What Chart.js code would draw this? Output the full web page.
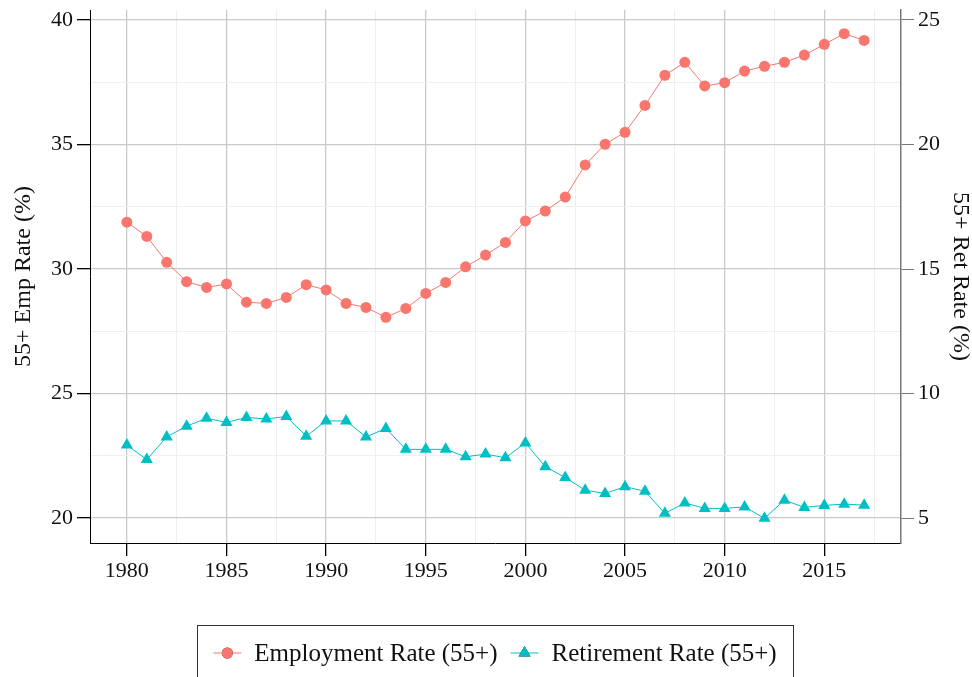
<!DOCTYPE html>
<html>
<head>
<meta charset="utf-8">
<title>55+ Employment and Retirement Rate</title>
<script src="https://cdn.jsdelivr.net/npm/chart.js"></script>
<style>
  html, body { margin: 0; padding: 0; background: #fff; }
  #chart { display: block; }
</style>
</head>
<body>
<canvas id="chart" width="972" height="677"></canvas>
<script>
// Data
const years = [1980, 1981, 1982, 1983, 1984, 1985, 1986, 1987, 1988, 1989,
               1990, 1991, 1992, 1993, 1994, 1995, 1996, 1997, 1998, 1999,
               2000, 2001, 2002, 2003, 2004, 2005, 2006, 2007, 2008, 2009,
               2010, 2011, 2012, 2013, 2014, 2015, 2016, 2017];

// 55+ employment rate (%), left axis
const empRate = [31.88, 31.31, 30.27, 29.49, 29.26, 29.40, 28.67, 28.62, 28.86, 29.37,
                 29.16, 28.62, 28.46, 28.06, 28.42, 29.02, 29.46, 30.09, 30.56, 31.07,
                 31.93, 32.33, 32.89, 34.18, 35.01, 35.49, 36.57, 37.78, 38.30, 37.35,
                 37.48, 37.95, 38.14, 38.30, 38.59, 39.02, 39.45, 39.18];

// 55+ retirement rate (%), right axis
const retRate = [7.93, 7.35, 8.26, 8.69, 9.01, 8.84, 9.04, 8.98, 9.08, 8.29,
                 8.90, 8.90, 8.26, 8.60, 7.76, 7.76, 7.76, 7.46, 7.57, 7.42,
                 8.02, 7.06, 6.63, 6.12, 5.99, 6.26, 6.08, 5.19, 5.61, 5.39,
                 5.39, 5.45, 4.99, 5.72, 5.43, 5.51, 5.56, 5.52];

const seriesNames = ['Employment Rate (55+)', 'Retirement Rate (55+)'];
const axisTitles = ['55+ Emp Rate (%)', '55+ Ret Rate (%)'];

const FONT = '"Liberation Serif", "Times New Roman", serif';
const TEXT = '#111111';
const RED = '#F8766D';
const CYAN = '#00BFC4';

const isMajor = (v, step) => Math.abs(v / step - Math.round(v / step)) < 1e-6;

// fix the plot box so it sits where the reference puts it
function fixSize(size) {
    return scale => {
        if (scale.isHorizontal()) scale.height = size; else scale.width = size;
        scale.paddingTop = 0;
        scale.paddingBottom = 0;
        scale.paddingLeft = 0;
        scale.paddingRight = 0;
    };
}

// Legend drawn by hand: boxed, with line + marker samples
const boxLegend = {
    id: 'boxLegend',
    afterDraw(chart) {
        const ctx = chart.ctx;
        const boxLeft = 197, boxRight = 793, boxTop = 625;
        const midY = 653;
        ctx.save();
        ctx.strokeStyle = '#333';
        ctx.lineWidth = 1;
        ctx.strokeRect(boxLeft + 0.5, boxTop + 0.5, boxRight - boxLeft, 80);

        ctx.font = '25px ' + FONT;
        ctx.textBaseline = 'middle';
        ctx.fillStyle = TEXT;
        const sampleW = 28, gapText = 13, gapItem = 13;
        const items = chart.data.datasets.map(ds => ({
            ds, w: sampleW + gapText + ctx.measureText(ds.label).width
        }));
        const total = items.reduce((a, it) => a + it.w, 0) + gapItem * (items.length - 1);
        let x = (boxLeft + boxRight) / 2 - total / 2;
        items.forEach(it => {
            const ds = it.ds;
            ctx.strokeStyle = ds.borderColor;
            ctx.lineWidth = ds.borderWidth;
            ctx.beginPath();
            ctx.moveTo(x, midY);
            ctx.lineTo(x + sampleW, midY);
            ctx.stroke();
            Chart.helpers.drawPoint(ctx, {
                pointStyle: ds.pointStyle,
                radius: ds.pointRadius,
                rotation: 0,
                borderWidth: 0
            }, x + sampleW / 2, midY);
            ctx.fillStyle = ds.pointBackgroundColor;
            ctx.fill();
            ctx.fillStyle = TEXT;
            ctx.fillText(ds.label, x + sampleW + gapText, midY + 1);
            x += it.w + gapItem;
        });
        ctx.restore();
    }
};

const ctx = document.getElementById('chart').getContext('2d');

new Chart(ctx, {
    type: 'line',
    data: {
        datasets: [
            {
                label: seriesNames[0],
                data: years.map((yr, i) => ({ x: yr, y: empRate[i] })),
                yAxisID: 'yL',
                borderColor: RED,
                backgroundColor: RED,
                borderWidth: 1,
                pointStyle: 'circle',
                pointRadius: 5.5,
                pointBackgroundColor: RED,
                pointBorderWidth: 0,
                tension: 0
            },
            {
                label: seriesNames[1],
                data: years.map((yr, i) => ({ x: yr, y: retRate[i] })),
                yAxisID: 'yR',
                borderColor: CYAN,
                backgroundColor: CYAN,
                borderWidth: 1,
                pointStyle: 'triangle',
                pointRadius: 7,
                pointBackgroundColor: CYAN,
                pointBorderWidth: 0,
                tension: 0
            }
        ]
    },
    options: {
        responsive: false,
        animation: false,
        layout: { padding: { top: 10, bottom: 84, left: 0, right: 0 } },
        plugins: {
            legend: { display: false },
            tooltip: { enabled: false }
        },
        scales: {
            x: {
                type: 'linear',
                min: 1978.15,
                max: 2018.85,
                afterFit: fixSize(50),
                border: { color: '#000', width: 1 },
                grid: {
                    color: c => isMajor(c.tick.value, 5) ? '#c9c9c9' : '#efefef',
                    lineWidth: c => isMajor(c.tick.value, 5) ? 1.3 : 1,
                    tickColor: c => isMajor(c.tick.value, 5) ? '#000' : 'rgba(0,0,0,0)',
                    tickLength: 13
                },
                ticks: {
                    stepSize: 2.5,
                    includeBounds: false,
                    autoSkip: false,
                    maxRotation: 0,
                    padding: 2,
                    color: TEXT,
                    font: { family: FONT, size: 22 },
                    callback: v => isMajor(v, 5) ? String(v) : ''
                }
            },
            yL: {
                type: 'linear',
                position: 'left',
                min: 19.0,
                max: 40.4,
                afterFit: fixSize(90),
                border: { color: '#000', width: 1 },
                grid: {
                    color: c => isMajor(c.tick.value, 5) ? '#c9c9c9' : '#efefef',
                    lineWidth: c => isMajor(c.tick.value, 5) ? 1.3 : 1,
                    tickColor: c => isMajor(c.tick.value, 5) ? '#000' : 'rgba(0,0,0,0)',
                    tickLength: 13
                },
                ticks: {
                    stepSize: 2.5,
                    includeBounds: false,
                    padding: 4,
                    color: TEXT,
                    font: { family: FONT, size: 22 },
                    callback: v => isMajor(v, 5) ? String(v) : ''
                },
                title: {
                    display: true,
                    text: axisTitles[0],
                    color: TEXT,
                    font: { family: FONT, size: 24, lineHeight: 1 },
                    padding: { top: 12, bottom: 0 }
                }
            },
            yR: {
                type: 'linear',
                position: 'right',
                min: 4.0,
                max: 25.4,
                afterFit: fixSize(71),
                border: { color: '#777', width: 1.5 },
                grid: {
                    drawOnChartArea: false,
                    tickColor: '#777',
                    tickLength: 13
                },
                ticks: {
                    stepSize: 5,
                    includeBounds: false,
                    padding: 4,
                    color: TEXT,
                    font: { family: FONT, size: 22 }
                },
                title: {
                    display: true,
                    text: axisTitles[1],
                    color: TEXT,
                    font: { family: FONT, size: 24, lineHeight: 1 },
                    padding: { top: 0, bottom: 0 }
                }
            }
        }
    },
    plugins: [boxLegend]
});
</script>
</body>
</html>
